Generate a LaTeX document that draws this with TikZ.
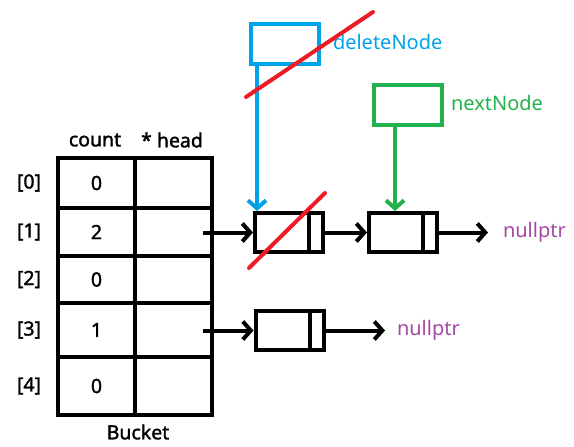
\documentclass[tikz,border=0pt]{standalone}
\usepackage{fontspec}
\setmainfont{Noto Sans}
\newfontfamily\tagfont{Noto Sans}[FakeBold=1.6]
\usetikzlibrary{arrows.meta}
\definecolor{paintblue}{RGB}{0,162,232}
\definecolor{paintgreen}{RGB}{34,177,76}
\definecolor{paintred}{RGB}{237,28,36}
\definecolor{paintpurple}{RGB}{163,73,164}
\tikzset{
  cell/.style={draw, line width=4pt, minimum width=77pt, inner sep=0pt},
  listnode/.style={draw, line width=4pt, minimum width=68pt, minimum height=39pt, inner sep=0pt},
  ptrbox/.style={draw, line width=4pt, minimum width=68pt, minimum height=40pt, inner sep=0pt},
  tag/.style={font=\tagfont\fontsize{19.5}{21}\selectfont, inner sep=0pt},
  ctext/.style={font=\fontsize{20}{22}\selectfont, inner sep=0pt, anchor=west},
}
\begin{document}
\begin{tikzpicture}[x=1pt, y=-1pt, >={Straight Barb[length=8pt, width=18pt]}, line width=4pt]
    \useasboundingbox (0,0) rectangle (574,447);
    % bucket table
    \node[tag] (counthdr) at (95,140) {count};
    \node[tag] (headhdr) at (172,140) {* head};
    \foreach \i/\top/\bot/\cnt in {0/158/208/0, 1/208/256/2, 2/256/303/0, 3/303/357/1, 4/357/415/0} {
        \node[cell, minimum height=\bot-\top] (cnt\i) at (96.5,{(\top+\bot)/2}) {};
        \node[cell, minimum height=\bot-\top] (head\i) at (173.5,{(\top+\bot)/2}) {};
        \node[tag] (val\i) at (cnt\i.center) {\cnt};
        \node[tag] (idx\i) at (29,{(\top+\bot)/2}) {[\i]};
    }
    \node[tag] (bucket) at (138,432) {Bucket};
    % list nodes
    \node[listnode] (del) at (289,232.5) {};
    \draw (309,213) -- (309,252);
    \node[listnode] (next) at (403,232.5) {};
    \draw (423,213) -- (423,252);
    \node[listnode] (single) at (289.5,330.5) {};
    \draw (310,311) -- (310,350);
    \coordinate (ptr1) at (203,232.5);
    \coordinate (ptr3) at (203,330.5);
    \coordinate (end1) at (488,232.5);
    \coordinate (end3) at (385,330.5);
    \draw[->] (ptr1) -- (del.west);
    \draw[->] (del.east) -- (next.west);
    \draw[->] (next.east) -- (end1);
    \draw[->] (ptr3) -- (single.west);
    \draw[->] (single.east) -- (end3);
    \node[ctext, text=paintpurple] (null1) at (501,232) {nullptr};
    \node[ctext, text=paintpurple] (null3) at (395,330) {nullptr};
    % pointers
    \node[ptrbox, draw=paintblue] (delptr) at (285,44) {};
    \node[ctext, text=paintblue] (dellabel) at (331,42) {deleteNode};
    \coordinate (delsrc) at (257,64);
    \draw[->, paintblue] (delsrc) -- (delsrc |- del.north);
    \node[ptrbox, draw=paintgreen] (nextptr) at (408,105) {};
    \node[ctext, text=paintgreen] (nextlabel) at (449,103) {nextNode};
    \coordinate (nextsrc) at (395,125);
    \draw[->, paintgreen] (nextsrc) -- (nextsrc |- next.north);
    % strike-throughs
    \draw[paintred, line cap=round] (246,97) -- (373,12);
    \draw[paintred, line cap=round] (249,268) -- (325,193);
\end{tikzpicture}
\end{document}
